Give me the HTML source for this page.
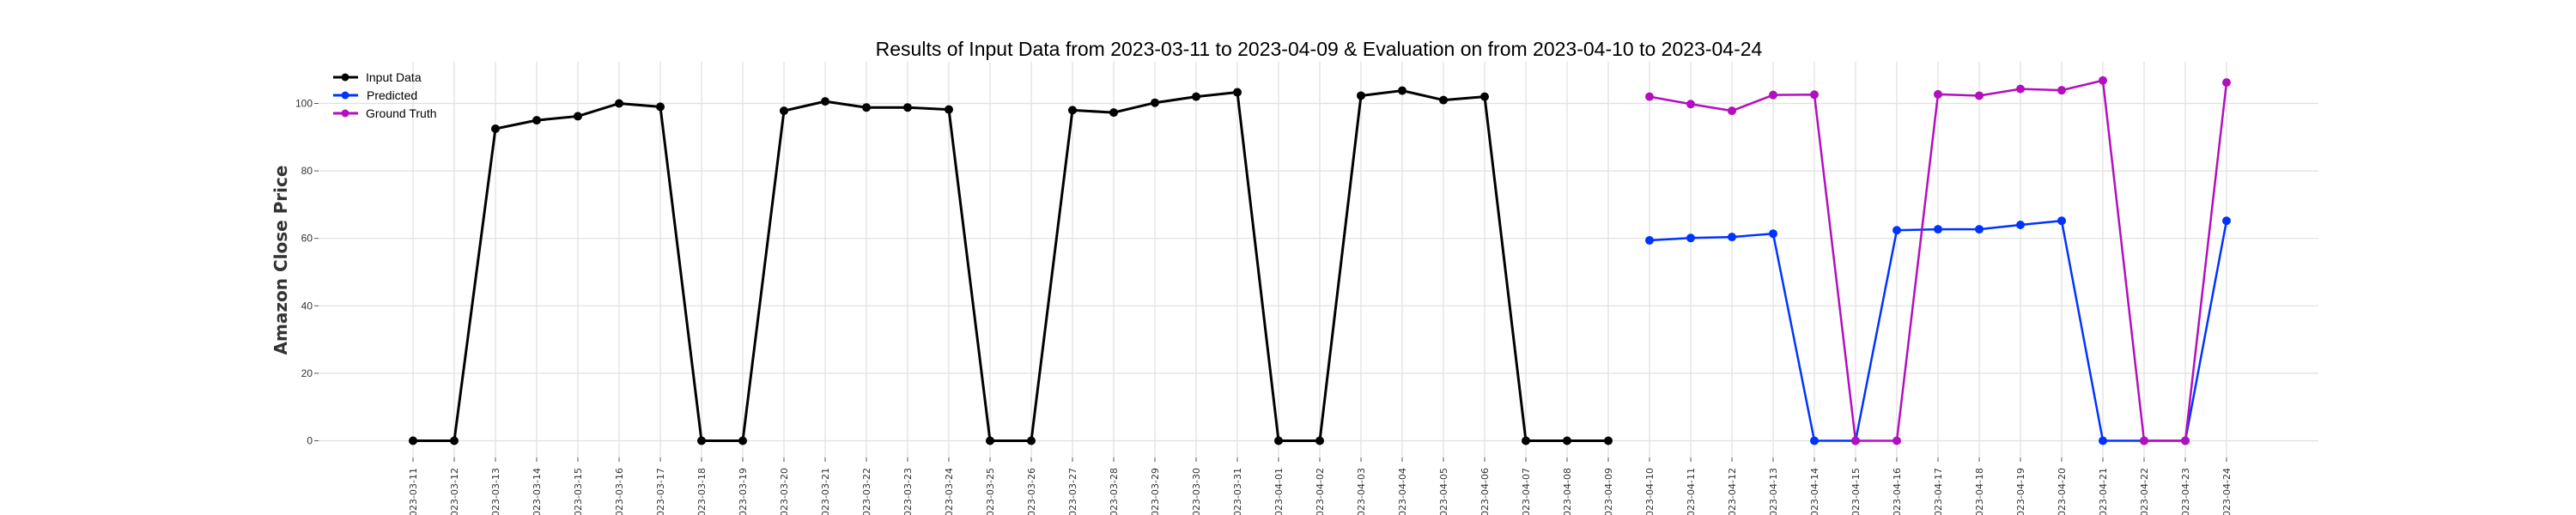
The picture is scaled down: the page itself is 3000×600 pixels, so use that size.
<!DOCTYPE html>
<html><head><meta charset="utf-8"><style>
html,body{margin:0;padding:0;background:#fff;}
svg{display:block;}
</style></head><body>
<svg id="chart" width="3000" height="600" xmlns="http://www.w3.org/2000/svg">
<text x="1536" y="65" text-anchor="middle" font-family="Liberation Sans, sans-serif" font-size="23" fill="#000">Results of Input Data from 2023-03-11 to 2023-04-09 &amp; Evaluation on from 2023-04-10 to 2023-04-24</text>
<text transform="translate(334,303) rotate(-90)" text-anchor="middle" font-family="DejaVu Sans, sans-serif" font-weight="bold" font-size="20" fill="#333">Amazon Close Price</text>
<g id="grid"></g><g id="ticks"></g><g id="series"></g>
<g font-family="Liberation Sans, sans-serif" font-size="14" fill="#000">
 <g><line x1="388" y1="90" x2="417" y2="90" stroke="#000" stroke-width="3"/><circle cx="402" cy="90" r="4.5" fill="#000"/><text x="426" y="95">Input Data</text></g>
 <g><line x1="388" y1="111" x2="417" y2="111" stroke="#0033ff" stroke-width="3"/><circle cx="402" cy="111" r="4.5" fill="#0033ff"/><text x="427" y="116">Predicted</text></g>
 <g><line x1="388" y1="132" x2="417" y2="132" stroke="#b30fbf" stroke-width="3"/><circle cx="402" cy="132" r="4.5" fill="#b30fbf"/><text x="426" y="137">Ground Truth</text></g>
</g>
</svg>
<script>
const inputDates=["2023-03-11","2023-03-12","2023-03-13","2023-03-14","2023-03-15","2023-03-16","2023-03-17","2023-03-18","2023-03-19","2023-03-20","2023-03-21","2023-03-22","2023-03-23","2023-03-24","2023-03-25","2023-03-26","2023-03-27","2023-03-28","2023-03-29","2023-03-30","2023-03-31","2023-04-01","2023-04-02","2023-04-03","2023-04-04","2023-04-05","2023-04-06","2023-04-07","2023-04-08","2023-04-09"];
const inputValues=[0,0,92.5,95,96.2,100,99,0,0,97.8,100.6,98.8,98.8,98.2,0,0,98,97.3,100.2,102,103.3,0,0,102.3,103.8,101,102,0,0,0];
const evalDates=["2023-04-10","2023-04-11","2023-04-12","2023-04-13","2023-04-14","2023-04-15","2023-04-16","2023-04-17","2023-04-18","2023-04-19","2023-04-20","2023-04-21","2023-04-22","2023-04-23","2023-04-24"];
const predictedValues=[59.4,60.1,60.4,61.4,0,0,62.4,62.7,62.7,64,65.2,0,0,0,65.2];
const truthValues=[102,99.8,97.8,102.5,102.6,0,0,102.7,102.3,104.3,103.9,106.8,0,0,106.2];
const yTicks=[0,20,40,60,80,100];

const NS="http://www.w3.org/2000/svg";
const allDates=inputDates.concat(evalDates);
const x0=481,step=48.0,y0=513.5,yScale=3.93;
function xPos(i){return x0+i*step;}
function yPos(v){return y0-v*yScale;}
function mk(tag,attrs,parent){const e=document.createElementNS(NS,tag);for(const k in attrs)e.setAttribute(k,attrs[k]);parent.appendChild(e);return e;}
const grid=document.getElementById('grid'),ticks=document.getElementById('ticks'),series=document.getElementById('series');
yTicks.forEach(v=>{
 const l=mk('line',{x1:371,x2:2700,y1:yPos(v),y2:yPos(v),stroke:'#e0e0e0','stroke-width':1.2},grid);
 
 
 mk('line',{x1:366,x2:371,y1:yPos(v),y2:yPos(v),stroke:'#555','stroke-width':1},ticks);
 const t=mk('text',{x:364,y:yPos(v)+4,'text-anchor':'end','font-family':'Liberation Sans, sans-serif','font-size':12,fill:'#333'},ticks);
 t.textContent=v;
 
 
});
allDates.forEach((d,i)=>{
 const x=xPos(i);
 const l=mk('line',{x1:x,x2:x,y1:72,y2:533,stroke:'#e0e0e0','stroke-width':1.2},grid);
 
 
 mk('line',{x1:x,x2:x,y1:533,y2:538,stroke:'#555','stroke-width':1},ticks);
 const t=mk('text',{transform:`translate(${x+4},545) rotate(-90)`,'text-anchor':'end','font-family':'DejaVu Sans, sans-serif','font-size':11,fill:'#333'},ticks);
 t.textContent=d;
 
 
});
function drawSeries(vals,offset,color,w,name){
 const g=mk('g',{},series);
 
 
 const pts=vals.map((v,i)=>xPos(i+offset)+','+yPos(v)).join(' ');
 mk('polyline',{points:pts,fill:'none',stroke:color,'stroke-width':w,'stroke-linejoin':'round'},g);
 vals.forEach((v,i)=>{
  const c=mk('circle',{cx:xPos(i+offset),cy:yPos(v),r:5,fill:color},g);
  
  
 });
}
drawSeries(inputValues,0,'#000',3,'input-data-series');
drawSeries(predictedValues,inputDates.length,'#0033ff',2.5,'predicted-series');
drawSeries(truthValues,inputDates.length,'#b30fbf',2.5,'ground-truth-series');
</script>
</body></html>
